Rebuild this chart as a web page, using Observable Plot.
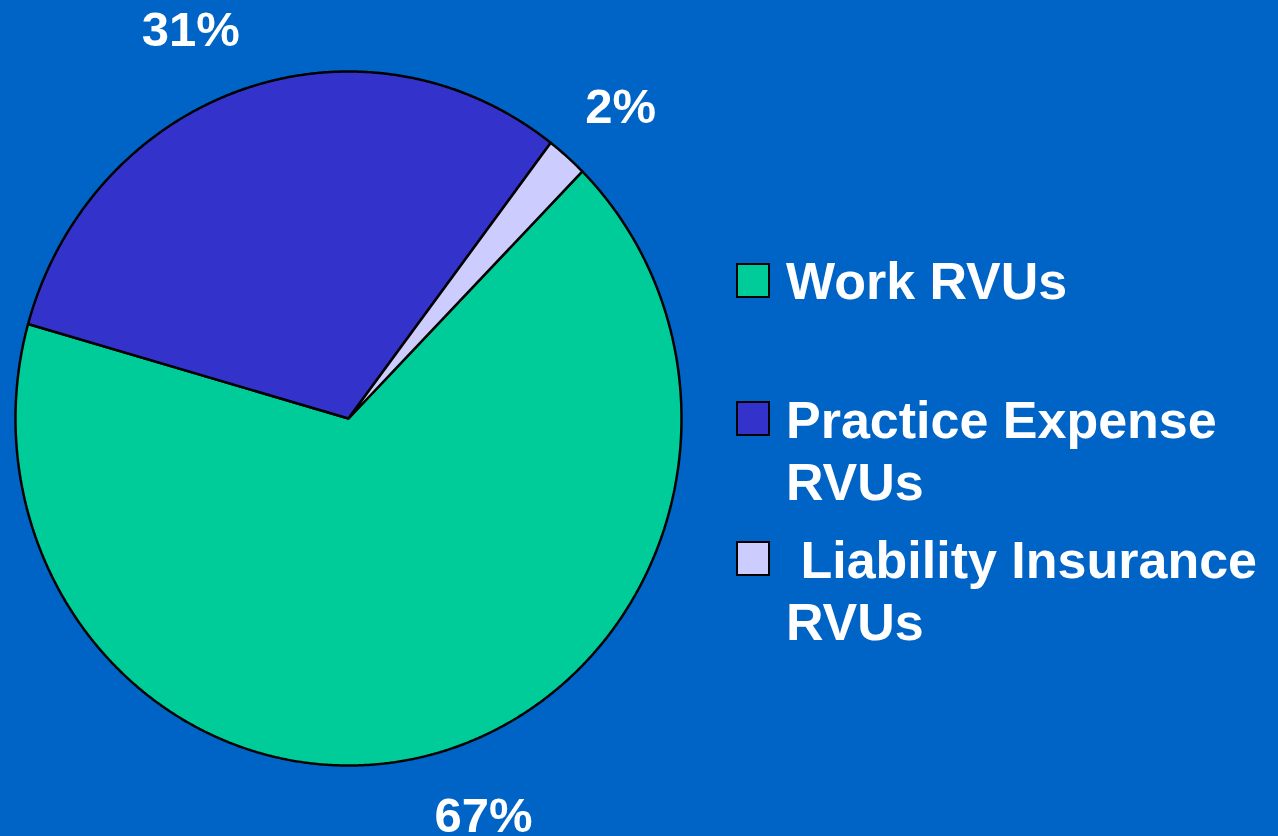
<!DOCTYPE html>
<html>
<head>
<meta charset="utf-8">
<script src="https://cdn.jsdelivr.net/npm/d3@7"></script>
<script src="https://cdn.jsdelivr.net/npm/@observablehq/plot@0.6"></script>
<style>
  html, body { margin: 0; padding: 0; background: #0063C6; width: 1278px; height: 836px; overflow: hidden; }
  #wrap { position: relative; width: 1278px; height: 836px; font-family: "Liberation Sans", Arial, sans-serif; }
  #chart { position: absolute; left: 0; top: 0; }
  .sw { position: absolute; left: 736px; width: 34px; height: 35px; box-sizing: border-box; border: 2px solid #000; }
  .lt { position: absolute; left: 786px; color: #fff; font-weight: bold; font-size: 52px; line-height: 62px; white-space: pre; }
</style>
</head>
<body>
<div id="wrap"><div id="chart"></div></div>
<script>
// ---- data ----
const categories = ["Work RVUs", "Practice Expense RVUs", "Liability Insurance RVUs"];
const values = [67, 31, 2];
const valueLabels = ["67%", "31%", "2%"];
const legendLabels = ["Work RVUs", "Practice Expense\nRVUs", " Liability Insurance\nRVUs"];
const colors = ["#00CC99", "#3333CC", "#CCCCFF"];

// ---- build slices ----
const startDeg = 44.6;
const start = startDeg * Math.PI / 180;
const arcs = d3.pie().sort(null).startAngle(start).endAngle(start + 2 * Math.PI)(values);

const slicePts = [];
arcs.forEach((a, i) => {
  const cat = categories[i];
  slicePts.push({cat, x: 0, y: 0});
  const n = Math.max(2, Math.ceil((a.endAngle - a.startAngle) / (0.25 * Math.PI / 180)));
  for (let k = 0; k <= n; k++) {
    const t = a.startAngle + (a.endAngle - a.startAngle) * k / n;
    slicePts.push({cat, x: Math.sin(t), y: Math.cos(t)});
  }
});

const labelR = 1.13;
const labelData = arcs.map((a, i) => {
  const m = (a.startAngle + a.endAngle) / 2;
  const s = Math.sin(m), c = Math.cos(m);
  return {
    text: valueLabels[i],
    x: s * labelR, y: c * labelR,
    h: s >= 0 ? "start" : "end",
    v: c >= 0 ? "bottom" : "top"
  };
});

const labelMarks = [];
for (const h of ["start", "end"]) {
  for (const v of ["top", "bottom"]) {
    const subset = labelData.filter(d => d.h === h && d.v === v);
    if (!subset.length) continue;
    labelMarks.push(Plot.text(subset, {
      x: "x", y: "y", text: "text",
      textAnchor: h, lineAnchor: v,
      dx: h === "start" ? -10 : 10,
      fill: "white", fontSize: 49, fontWeight: "bold",
      fontFamily: "Liberation Sans, Arial, sans-serif"
    }));
  }
}

const chart = Plot.plot({
  width: 720,
  height: 836,
  marginLeft: 15,
  marginRight: 39,
  marginTop: 71,
  marginBottom: 71,
  style: { background: "transparent", overflow: "visible" },
  x: { domain: [-1, 1], axis: null },
  y: { domain: [-1, 1], axis: null },
  color: { domain: categories, range: colors },
  marks: [
    Plot.line(slicePts, {
      x: "x", y: "y", z: "cat", fill: "cat",
      stroke: "black", strokeWidth: 2.5, curve: "linear-closed",
      strokeLinejoin: "miter"
    }),
    ...labelMarks
  ]
});
document.getElementById("chart").appendChild(chart);

// ---- legend ----
const wrap = document.getElementById("wrap");
const swTops = [263, 401, 541];
const txtTops = [250, 389, 529];
categories.forEach((c, i) => {
  const sw = document.createElement("div");
  sw.className = "sw";
  sw.style.top = swTops[i] + "px";
  sw.style.background = colors[i];
  wrap.appendChild(sw);
  const t = document.createElement("div");
  t.className = "lt";
  t.style.top = txtTops[i] + "px";
  t.textContent = legendLabels[i];
  wrap.appendChild(t);
});
</script>
</body>
</html>
